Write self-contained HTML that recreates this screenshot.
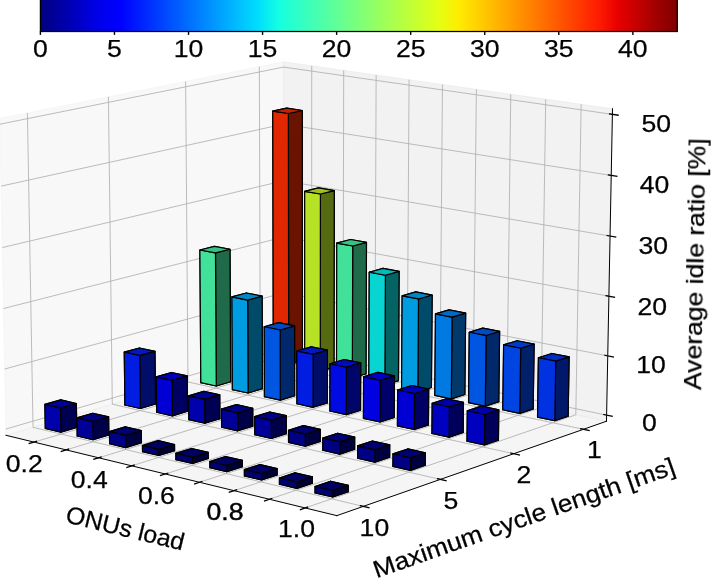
<!DOCTYPE html>
<html><head><meta charset="utf-8"><title>3D bar chart</title>
<style>html,body{margin:0;padding:0;background:#fff;}body{width:711px;height:578px;overflow:hidden;font-family:"Liberation Sans",sans-serif;}svg{display:block;}</style>
</head><body>
<svg width="711" height="578" viewBox="0 0 711 578" font-family="Liberation Sans, sans-serif">
<rect width="711" height="578" fill="#fff"/>
<defs><linearGradient id="jet" x1="0" y1="0" x2="1" y2="0"><stop offset="0.0000" stop-color="#000080"/><stop offset="0.0312" stop-color="#0000a4"/><stop offset="0.0625" stop-color="#0000c8"/><stop offset="0.0938" stop-color="#0000ed"/><stop offset="0.1250" stop-color="#0000ff"/><stop offset="0.1562" stop-color="#0020ff"/><stop offset="0.1875" stop-color="#0040ff"/><stop offset="0.2188" stop-color="#0060ff"/><stop offset="0.2500" stop-color="#0080ff"/><stop offset="0.2812" stop-color="#00a0ff"/><stop offset="0.3125" stop-color="#00c0ff"/><stop offset="0.3438" stop-color="#00e0fb"/><stop offset="0.3750" stop-color="#16ffe1"/><stop offset="0.4062" stop-color="#30ffc7"/><stop offset="0.4375" stop-color="#49ffad"/><stop offset="0.4688" stop-color="#63ff94"/><stop offset="0.5000" stop-color="#7dff7a"/><stop offset="0.5312" stop-color="#97ff60"/><stop offset="0.5625" stop-color="#b1ff46"/><stop offset="0.5938" stop-color="#caff2c"/><stop offset="0.6250" stop-color="#e4ff13"/><stop offset="0.6562" stop-color="#feed00"/><stop offset="0.6875" stop-color="#ffd000"/><stop offset="0.7188" stop-color="#ffb200"/><stop offset="0.7500" stop-color="#ff9400"/><stop offset="0.7812" stop-color="#ff7700"/><stop offset="0.8125" stop-color="#ff5900"/><stop offset="0.8438" stop-color="#ff3b00"/><stop offset="0.8750" stop-color="#ff1e00"/><stop offset="0.9062" stop-color="#e80000"/><stop offset="0.9375" stop-color="#c40000"/><stop offset="0.9688" stop-color="#9f0000"/><stop offset="1.0000" stop-color="#800000"/></linearGradient></defs>
<rect x="40.40" y="-5.00" width="636.90" height="36.50" fill="url(#jet)"/>
<rect x="40.40" y="-5.00" width="636.90" height="36.50" fill="none" stroke="#000" stroke-width="1.25"/>
<line x1="40.40" y1="31.50" x2="40.40" y2="34.90" stroke="#000" stroke-width="1.40"/>
<line x1="114.46" y1="31.50" x2="114.46" y2="34.90" stroke="#000" stroke-width="1.40"/>
<line x1="188.52" y1="31.50" x2="188.52" y2="34.90" stroke="#000" stroke-width="1.40"/>
<line x1="262.57" y1="31.50" x2="262.57" y2="34.90" stroke="#000" stroke-width="1.40"/>
<line x1="336.63" y1="31.50" x2="336.63" y2="34.90" stroke="#000" stroke-width="1.40"/>
<line x1="410.69" y1="31.50" x2="410.69" y2="34.90" stroke="#000" stroke-width="1.40"/>
<line x1="484.75" y1="31.50" x2="484.75" y2="34.90" stroke="#000" stroke-width="1.40"/>
<line x1="558.81" y1="31.50" x2="558.81" y2="34.90" stroke="#000" stroke-width="1.40"/>
<line x1="632.87" y1="31.50" x2="632.87" y2="34.90" stroke="#000" stroke-width="1.40"/>
<polygon points="5.93,435.28 284.08,353.88 283.63,61.86 -0.27,118.53" fill="#f2f2f2" fill-opacity="0.5" stroke="#f2f2f2" stroke-opacity="0.5" stroke-width="1.00"/>
<polygon points="284.08,353.88 606.48,421.25 612.51,108.75 283.63,61.86" fill="#e6e6e6" fill-opacity="0.5" stroke="#e6e6e6" stroke-opacity="0.5" stroke-width="1.00"/>
<polygon points="5.93,435.28 336.84,515.64 606.48,421.25 284.08,353.88" fill="#ececec" fill-opacity="0.5" stroke="#ececec" stroke-opacity="0.5" stroke-width="1.00"/>
<polyline points="5.93,435.28 336.84,515.64" fill="none" stroke="#000" stroke-width="1.00" stroke-linecap="square"/>
<polyline points="34.07,442.11 311.66,359.64 311.73,65.86" fill="none" stroke="#b0b0b0" stroke-width="0.85"/>
<polyline points="66.12,449.90 343.04,366.20 343.70,70.42" fill="none" stroke="#b0b0b0" stroke-width="0.85"/>
<polyline points="98.68,457.80 374.87,372.85 376.15,75.05" fill="none" stroke="#b0b0b0" stroke-width="0.85"/>
<polyline points="131.74,465.83 407.15,379.60 409.07,79.74" fill="none" stroke="#b0b0b0" stroke-width="0.85"/>
<polyline points="165.33,473.99 439.91,386.44 442.47,84.51" fill="none" stroke="#b0b0b0" stroke-width="0.85"/>
<polyline points="199.45,482.27 473.14,393.39 476.37,89.34" fill="none" stroke="#b0b0b0" stroke-width="0.85"/>
<polyline points="234.12,490.69 506.86,400.43 510.78,94.25" fill="none" stroke="#b0b0b0" stroke-width="0.85"/>
<polyline points="269.35,499.25 541.07,407.58 545.71,99.23" fill="none" stroke="#b0b0b0" stroke-width="0.85"/>
<polyline points="305.16,507.95 575.80,414.84 581.17,104.28" fill="none" stroke="#b0b0b0" stroke-width="0.85"/>
<polyline points="36.49,441.39 29.23,443.55" fill="none" stroke="#000" stroke-width="1.30" stroke-linecap="square"/>
<polyline points="68.54,449.17 61.29,451.36" fill="none" stroke="#000" stroke-width="1.30" stroke-linecap="square"/>
<polyline points="101.08,457.06 93.85,459.29" fill="none" stroke="#000" stroke-width="1.30" stroke-linecap="square"/>
<polyline points="134.14,465.08 126.92,467.34" fill="none" stroke="#000" stroke-width="1.30" stroke-linecap="square"/>
<polyline points="167.72,473.22 160.52,475.52" fill="none" stroke="#000" stroke-width="1.30" stroke-linecap="square"/>
<polyline points="201.84,481.50 194.66,483.83" fill="none" stroke="#000" stroke-width="1.30" stroke-linecap="square"/>
<polyline points="236.50,489.90 229.34,492.28" fill="none" stroke="#000" stroke-width="1.30" stroke-linecap="square"/>
<polyline points="271.73,498.45 264.59,500.86" fill="none" stroke="#000" stroke-width="1.30" stroke-linecap="square"/>
<polyline points="307.53,507.13 300.41,509.58" fill="none" stroke="#000" stroke-width="1.30" stroke-linecap="square"/>
<polyline points="336.84,515.64 606.48,421.25" fill="none" stroke="#000" stroke-width="1.00" stroke-linecap="square"/>
<polyline points="27.42,113.00 33.02,427.35 363.25,506.39" fill="none" stroke="#b0b0b0" stroke-width="0.85"/>
<polyline points="108.42,96.83 112.31,404.15 440.38,479.40" fill="none" stroke="#b0b0b0" stroke-width="0.85"/>
<polyline points="185.64,81.42 187.98,382.00 513.71,453.73" fill="none" stroke="#b0b0b0" stroke-width="0.85"/>
<polyline points="259.35,66.70 260.26,360.85 583.53,429.29" fill="none" stroke="#b0b0b0" stroke-width="0.85"/>
<polyline points="360.40,505.71 368.97,507.76" fill="none" stroke="#000" stroke-width="1.30" stroke-linecap="square"/>
<polyline points="437.55,478.75 446.04,480.70" fill="none" stroke="#000" stroke-width="1.30" stroke-linecap="square"/>
<polyline points="510.91,453.11 519.33,454.96" fill="none" stroke="#000" stroke-width="1.30" stroke-linecap="square"/>
<polyline points="580.75,428.70 589.09,430.47" fill="none" stroke="#000" stroke-width="1.30" stroke-linecap="square"/>
<polyline points="606.48,421.25 612.51,108.75" fill="none" stroke="#000" stroke-width="1.00" stroke-linecap="square"/>
<polyline points="606.60,415.13 284.07,348.14 5.81,429.07" fill="none" stroke="#b0b0b0" stroke-width="0.85"/>
<polyline points="607.74,355.89 283.99,292.73 4.64,369.04" fill="none" stroke="#b0b0b0" stroke-width="0.85"/>
<polyline points="608.90,296.20 283.90,236.93 3.45,308.55" fill="none" stroke="#b0b0b0" stroke-width="0.85"/>
<polyline points="610.06,236.05 283.81,180.72 2.26,247.59" fill="none" stroke="#b0b0b0" stroke-width="0.85"/>
<polyline points="611.22,175.44 283.73,124.11 1.06,186.14" fill="none" stroke="#b0b0b0" stroke-width="0.85"/>
<polyline points="612.40,114.35 283.64,67.08 -0.16,124.21" fill="none" stroke="#b0b0b0" stroke-width="0.85"/>
<polyline points="603.83,414.55 612.15,416.28" fill="none" stroke="#000" stroke-width="1.30" stroke-linecap="square"/>
<polyline points="604.97,355.35 613.31,356.98" fill="none" stroke="#000" stroke-width="1.30" stroke-linecap="square"/>
<polyline points="606.10,295.69 614.49,297.22" fill="none" stroke="#000" stroke-width="1.30" stroke-linecap="square"/>
<polyline points="607.25,235.58 615.67,237.01" fill="none" stroke="#000" stroke-width="1.30" stroke-linecap="square"/>
<polyline points="608.41,175.00 616.86,176.32" fill="none" stroke="#000" stroke-width="1.30" stroke-linecap="square"/>
<polyline points="609.58,113.95 618.06,115.17" fill="none" stroke="#000" stroke-width="1.30" stroke-linecap="square"/>
<polygon points="273.35,361.31 287.12,357.26 302.43,360.47 288.68,364.55" fill="#881800" stroke="#000" stroke-width="1.20" stroke-linejoin="round"/>
<polygon points="287.12,357.26 286.78,108.11 302.33,110.49 302.43,360.47" fill="#6a1300" stroke="#000" stroke-width="1.20" stroke-linejoin="round"/>
<polygon points="273.35,361.31 272.78,111.11 286.78,108.11 287.12,357.26" fill="#e12700" stroke="#000" stroke-width="1.20" stroke-linejoin="round"/>
<polygon points="304.72,367.94 318.45,363.83 333.98,367.09 320.27,371.22" fill="#6e8816" stroke="#000" stroke-width="1.20" stroke-linejoin="round"/>
<polygon points="288.68,364.55 302.43,360.47 302.33,110.49 288.36,113.51" fill="#6a1300" stroke="#000" stroke-width="1.20" stroke-linejoin="round"/>
<polygon points="273.35,361.31 288.68,364.55 288.36,113.51 272.78,111.11" fill="#e12700" stroke="#000" stroke-width="1.20" stroke-linejoin="round"/>
<polygon points="318.45,363.83 318.56,187.93 334.27,190.60 333.98,367.09" fill="#566a11" stroke="#000" stroke-width="1.20" stroke-linejoin="round"/>
<polygon points="304.72,367.94 304.68,191.30 318.56,187.93 318.45,363.83" fill="#b6e124" stroke="#000" stroke-width="1.20" stroke-linejoin="round"/>
<polygon points="336.54,374.66 350.23,370.49 365.99,373.79 352.32,377.99" fill="#27885c" stroke="#000" stroke-width="1.20" stroke-linejoin="round"/>
<polygon points="320.27,371.22 333.98,367.09 334.27,190.60 320.41,193.99" fill="#566a11" stroke="#000" stroke-width="1.20" stroke-linejoin="round"/>
<polygon points="304.72,367.94 320.27,371.22 320.41,193.99 304.68,191.30" fill="#b6e124" stroke="#000" stroke-width="1.20" stroke-linejoin="round"/>
<polygon points="272.78,111.11 288.36,113.51 302.33,110.49 286.78,108.11" fill="#c32200" stroke="#000" stroke-width="1.20" stroke-linejoin="round"/>
<polygon points="350.23,370.49 350.58,239.48 366.47,242.35 365.99,373.79" fill="#1f6a48" stroke="#000" stroke-width="1.20" stroke-linejoin="round"/>
<polygon points="336.54,374.66 336.78,243.10 350.58,239.48 350.23,370.49" fill="#41e199" stroke="#000" stroke-width="1.20" stroke-linejoin="round"/>
<polygon points="304.68,191.30 320.41,193.99 334.27,190.60 318.56,187.93" fill="#9ec320" stroke="#000" stroke-width="1.20" stroke-linejoin="round"/>
<polygon points="352.32,377.99 365.99,373.79 366.47,242.35 352.70,245.99" fill="#1f6a48" stroke="#000" stroke-width="1.20" stroke-linejoin="round"/>
<polygon points="336.54,374.66 352.32,377.99 352.70,245.99 336.78,243.10" fill="#41e199" stroke="#000" stroke-width="1.20" stroke-linejoin="round"/>
<polygon points="368.83,381.48 382.47,377.25 398.46,380.60 384.84,384.86" fill="#05807f" stroke="#000" stroke-width="1.20" stroke-linejoin="round"/>
<polygon points="336.78,243.10 352.70,245.99 366.47,242.35 350.58,239.48" fill="#38c385" stroke="#000" stroke-width="1.20" stroke-linejoin="round"/>
<polygon points="200.83,382.63 215.24,378.40 230.65,381.75 216.26,386.02" fill="#27885c" stroke="#000" stroke-width="1.20" stroke-linejoin="round"/>
<polygon points="382.47,377.25 382.99,268.45 399.09,271.43 398.46,380.60" fill="#046463" stroke="#000" stroke-width="1.20" stroke-linejoin="round"/>
<polygon points="368.83,381.48 369.26,272.21 382.99,268.45 382.47,377.25" fill="#08d4d2" stroke="#000" stroke-width="1.20" stroke-linejoin="round"/>
<polygon points="215.24,378.40 214.45,246.34 229.99,249.25 230.65,381.75" fill="#1f6a48" stroke="#000" stroke-width="1.20" stroke-linejoin="round"/>
<polygon points="200.83,382.63 199.91,250.01 214.45,246.34 215.24,378.40" fill="#41e199" stroke="#000" stroke-width="1.20" stroke-linejoin="round"/>
<polygon points="384.84,384.86 398.46,380.60 399.09,271.43 385.38,275.22" fill="#046463" stroke="#000" stroke-width="1.20" stroke-linejoin="round"/>
<polygon points="368.83,381.48 384.84,384.86 385.38,275.22 369.26,272.21" fill="#08d4d2" stroke="#000" stroke-width="1.20" stroke-linejoin="round"/>
<polygon points="369.26,272.21 385.38,275.22 399.09,271.43 382.99,268.45" fill="#07b8b6" stroke="#000" stroke-width="1.20" stroke-linejoin="round"/>
<polygon points="216.26,386.02 230.65,381.75 229.99,249.25 215.47,252.95" fill="#1f6a48" stroke="#000" stroke-width="1.20" stroke-linejoin="round"/>
<polygon points="401.59,388.39 415.18,384.11 431.40,387.51 417.83,391.82" fill="#005e88" stroke="#000" stroke-width="1.20" stroke-linejoin="round"/>
<polygon points="200.83,382.63 216.26,386.02 215.47,252.95 199.91,250.01" fill="#41e199" stroke="#000" stroke-width="1.20" stroke-linejoin="round"/>
<polygon points="415.18,384.11 415.82,291.95 432.13,295.04 431.40,387.51" fill="#004a6a" stroke="#000" stroke-width="1.20" stroke-linejoin="round"/>
<polygon points="401.59,388.39 402.15,295.85 415.82,291.95 415.18,384.11" fill="#009ce1" stroke="#000" stroke-width="1.20" stroke-linejoin="round"/>
<polygon points="232.40,389.57 246.77,385.27 262.41,388.68 248.06,393.00" fill="#005e88" stroke="#000" stroke-width="1.20" stroke-linejoin="round"/>
<polygon points="246.77,385.27 246.41,293.01 262.13,296.10 262.41,388.68" fill="#004a6a" stroke="#000" stroke-width="1.20" stroke-linejoin="round"/>
<polygon points="232.40,389.57 231.95,296.91 246.41,293.01 246.77,385.27" fill="#009ce1" stroke="#000" stroke-width="1.20" stroke-linejoin="round"/>
<polygon points="199.91,250.01 215.47,252.95 229.99,249.25 214.45,246.34" fill="#38c385" stroke="#000" stroke-width="1.20" stroke-linejoin="round"/>
<polygon points="417.83,391.82 431.40,387.51 432.13,295.04 418.49,298.96" fill="#004a6a" stroke="#000" stroke-width="1.20" stroke-linejoin="round"/>
<polygon points="401.59,388.39 417.83,391.82 418.49,298.96 402.15,295.85" fill="#009ce1" stroke="#000" stroke-width="1.20" stroke-linejoin="round"/>
<polygon points="402.15,295.85 418.49,298.96 432.13,295.04 415.82,291.95" fill="#0087c3" stroke="#000" stroke-width="1.20" stroke-linejoin="round"/>
<polygon points="248.06,393.00 262.41,388.68 262.13,296.10 247.69,300.04" fill="#004a6a" stroke="#000" stroke-width="1.20" stroke-linejoin="round"/>
<polygon points="232.40,389.57 248.06,393.00 247.69,300.04 231.95,296.91" fill="#009ce1" stroke="#000" stroke-width="1.20" stroke-linejoin="round"/>
<polygon points="231.95,296.91 247.69,300.04 262.13,296.10 246.41,293.01" fill="#0087c3" stroke="#000" stroke-width="1.20" stroke-linejoin="round"/>
<polygon points="434.83,395.41 448.37,391.06 464.83,394.51 451.31,398.89" fill="#004988" stroke="#000" stroke-width="1.20" stroke-linejoin="round"/>
<polygon points="448.37,391.06 449.10,309.93 465.65,313.11 464.83,394.51" fill="#00396a" stroke="#000" stroke-width="1.20" stroke-linejoin="round"/>
<polygon points="434.83,395.41 435.49,313.94 449.10,309.93 448.37,391.06" fill="#0079e1" stroke="#000" stroke-width="1.20" stroke-linejoin="round"/>
<polygon points="278.77,392.24 278.64,322.67 294.57,325.89 294.63,395.70" fill="#00286a" stroke="#000" stroke-width="1.20" stroke-linejoin="round"/>
<polygon points="264.44,396.60 278.77,392.24 294.63,395.70 280.32,400.09" fill="#003388" stroke="#000" stroke-width="1.20" stroke-linejoin="round"/>
<polygon points="264.44,396.60 264.24,326.74 278.64,322.67 278.77,392.24" fill="#0055e1" stroke="#000" stroke-width="1.20" stroke-linejoin="round"/>
<polygon points="451.31,398.89 464.83,394.51 465.65,313.11 452.07,317.14" fill="#00396a" stroke="#000" stroke-width="1.20" stroke-linejoin="round"/>
<polygon points="434.83,395.41 451.31,398.89 452.07,317.14 435.49,313.94" fill="#0079e1" stroke="#000" stroke-width="1.20" stroke-linejoin="round"/>
<polygon points="435.49,313.94 452.07,317.14 465.65,313.11 449.10,309.93" fill="#0069c3" stroke="#000" stroke-width="1.20" stroke-linejoin="round"/>
<polygon points="280.32,400.09 294.63,395.70 294.57,325.89 280.20,329.99" fill="#00286a" stroke="#000" stroke-width="1.20" stroke-linejoin="round"/>
<polygon points="264.24,326.74 280.20,329.99 294.57,325.89 278.64,322.67" fill="#004ac3" stroke="#000" stroke-width="1.20" stroke-linejoin="round"/>
<polygon points="264.44,396.60 280.32,400.09 280.20,329.99 264.24,326.74" fill="#0055e1" stroke="#000" stroke-width="1.20" stroke-linejoin="round"/>
<polygon points="482.05,398.12 482.83,328.15 499.61,331.41 498.75,401.62" fill="#00286a" stroke="#000" stroke-width="1.20" stroke-linejoin="round"/>
<polygon points="468.56,402.54 482.05,398.12 498.75,401.62 485.29,406.07" fill="#003388" stroke="#000" stroke-width="1.20" stroke-linejoin="round"/>
<polygon points="468.56,402.54 469.29,332.26 482.83,328.15 482.05,398.12" fill="#0055e1" stroke="#000" stroke-width="1.20" stroke-linejoin="round"/>
<polygon points="311.24,399.32 311.25,346.84 327.40,350.17 327.34,402.83" fill="#000e6a" stroke="#000" stroke-width="1.20" stroke-linejoin="round"/>
<polygon points="296.95,403.74 296.91,351.04 311.25,346.84 311.24,399.32" fill="#001de1" stroke="#000" stroke-width="1.20" stroke-linejoin="round"/>
<polygon points="296.95,403.74 311.24,399.32 327.34,402.83 313.07,407.29" fill="#001188" stroke="#000" stroke-width="1.20" stroke-linejoin="round"/>
<polygon points="140.00,400.52 139.43,347.98 154.97,351.31 155.49,404.04" fill="#000e6a" stroke="#000" stroke-width="1.20" stroke-linejoin="round"/>
<polygon points="124.90,404.96 124.28,352.19 139.43,347.98 140.00,400.52" fill="#001de1" stroke="#000" stroke-width="1.20" stroke-linejoin="round"/>
<polygon points="124.90,404.96 140.00,400.52 155.49,404.04 140.42,408.51" fill="#001188" stroke="#000" stroke-width="1.20" stroke-linejoin="round"/>
<polygon points="485.29,406.07 498.75,401.62 499.61,331.41 486.10,335.55" fill="#00286a" stroke="#000" stroke-width="1.20" stroke-linejoin="round"/>
<polygon points="469.29,332.26 486.10,335.55 499.61,331.41 482.83,328.15" fill="#004ac3" stroke="#000" stroke-width="1.20" stroke-linejoin="round"/>
<polygon points="468.56,402.54 485.29,406.07 486.10,335.55 469.29,332.26" fill="#0055e1" stroke="#000" stroke-width="1.20" stroke-linejoin="round"/>
<polygon points="296.91,351.04 313.09,354.40 327.40,350.17 311.25,346.84" fill="#0019c3" stroke="#000" stroke-width="1.20" stroke-linejoin="round"/>
<polygon points="313.07,407.29 327.34,402.83 327.40,350.17 313.09,354.40" fill="#000e6a" stroke="#000" stroke-width="1.20" stroke-linejoin="round"/>
<polygon points="296.95,403.74 313.07,407.29 313.09,354.40 296.91,351.04" fill="#001de1" stroke="#000" stroke-width="1.20" stroke-linejoin="round"/>
<polygon points="124.28,352.19 139.84,355.55 154.97,351.31 139.43,347.98" fill="#0019c3" stroke="#000" stroke-width="1.20" stroke-linejoin="round"/>
<polygon points="140.42,408.51 155.49,404.04 154.97,351.31 139.84,355.55" fill="#000e6a" stroke="#000" stroke-width="1.20" stroke-linejoin="round"/>
<polygon points="124.90,404.96 140.42,408.51 139.84,355.55 124.28,352.19" fill="#001de1" stroke="#000" stroke-width="1.20" stroke-linejoin="round"/>
<polygon points="516.23,405.29 517.10,340.72 534.12,344.05 533.18,408.84" fill="#00206a" stroke="#000" stroke-width="1.20" stroke-linejoin="round"/>
<polygon points="502.80,409.77 516.23,405.29 533.18,408.84 519.78,413.35" fill="#002988" stroke="#000" stroke-width="1.20" stroke-linejoin="round"/>
<polygon points="502.80,409.77 503.61,344.92 517.10,340.72 516.23,405.29" fill="#0044e1" stroke="#000" stroke-width="1.20" stroke-linejoin="round"/>
<polygon points="344.19,406.50 344.30,359.54 360.69,362.94 360.53,410.06" fill="#00056a" stroke="#000" stroke-width="1.20" stroke-linejoin="round"/>
<polygon points="329.94,410.99 330.01,363.83 344.30,359.54 344.19,406.50" fill="#000be1" stroke="#000" stroke-width="1.20" stroke-linejoin="round"/>
<polygon points="329.94,410.99 344.19,406.50 360.53,410.06 346.31,414.59" fill="#000788" stroke="#000" stroke-width="1.20" stroke-linejoin="round"/>
<polygon points="171.71,407.72 171.40,372.48 187.17,375.93 187.44,411.29" fill="#000064" stroke="#000" stroke-width="1.20" stroke-linejoin="round"/>
<polygon points="156.65,412.22 156.31,376.83 171.40,372.48 171.71,407.72" fill="#0000d5" stroke="#000" stroke-width="1.20" stroke-linejoin="round"/>
<polygon points="156.65,412.22 171.71,407.72 187.44,411.29 172.40,415.83" fill="#000081" stroke="#000" stroke-width="1.20" stroke-linejoin="round"/>
<polygon points="519.78,413.35 533.18,408.84 534.12,344.05 520.67,348.28" fill="#00206a" stroke="#000" stroke-width="1.20" stroke-linejoin="round"/>
<polygon points="503.61,344.92 520.67,348.28 534.12,344.05 517.10,340.72" fill="#003bc3" stroke="#000" stroke-width="1.20" stroke-linejoin="round"/>
<polygon points="330.01,363.83 346.43,367.26 360.69,362.94 344.30,359.54" fill="#000ac3" stroke="#000" stroke-width="1.20" stroke-linejoin="round"/>
<polygon points="502.80,409.77 519.78,413.35 520.67,348.28 503.61,344.92" fill="#0044e1" stroke="#000" stroke-width="1.20" stroke-linejoin="round"/>
<polygon points="346.31,414.59 360.53,410.06 360.69,362.94 346.43,367.26" fill="#00056a" stroke="#000" stroke-width="1.20" stroke-linejoin="round"/>
<polygon points="156.31,376.83 172.09,380.32 187.17,375.93 171.40,372.48" fill="#0000b9" stroke="#000" stroke-width="1.20" stroke-linejoin="round"/>
<polygon points="329.94,410.99 346.31,414.59 346.43,367.26 330.01,363.83" fill="#000be1" stroke="#000" stroke-width="1.20" stroke-linejoin="round"/>
<polygon points="172.40,415.83 187.44,411.29 187.17,375.93 172.09,380.32" fill="#000064" stroke="#000" stroke-width="1.20" stroke-linejoin="round"/>
<polygon points="156.65,412.22 172.40,415.83 172.09,380.32 156.31,376.83" fill="#0000d5" stroke="#000" stroke-width="1.20" stroke-linejoin="round"/>
<polygon points="550.92,412.56 551.85,353.47 569.12,356.87 568.13,416.16" fill="#00186a" stroke="#000" stroke-width="1.20" stroke-linejoin="round"/>
<polygon points="537.55,417.11 550.92,412.56 568.13,416.16 554.79,420.75" fill="#001e88" stroke="#000" stroke-width="1.20" stroke-linejoin="round"/>
<polygon points="537.55,417.11 538.43,357.76 551.85,353.47 550.92,412.56" fill="#0032e1" stroke="#000" stroke-width="1.20" stroke-linejoin="round"/>
<polygon points="377.63,413.79 377.82,372.43 394.45,375.90 394.22,417.41" fill="#00006a" stroke="#000" stroke-width="1.20" stroke-linejoin="round"/>
<polygon points="363.44,418.35 363.59,376.81 377.82,372.43 377.63,413.79" fill="#0000e1" stroke="#000" stroke-width="1.20" stroke-linejoin="round"/>
<polygon points="203.90,415.03 203.74,391.39 219.74,394.93 219.87,418.65" fill="#000052" stroke="#000" stroke-width="1.20" stroke-linejoin="round"/>
<polygon points="363.44,418.35 377.63,413.79 394.22,417.41 380.05,422.00" fill="#000088" stroke="#000" stroke-width="1.20" stroke-linejoin="round"/>
<polygon points="188.88,419.60 188.70,395.86 203.74,391.39 203.90,415.03" fill="#0000ad" stroke="#000" stroke-width="1.20" stroke-linejoin="round"/>
<polygon points="188.88,419.60 203.90,415.03 219.87,418.65 204.87,423.26" fill="#000068" stroke="#000" stroke-width="1.20" stroke-linejoin="round"/>
<polygon points="554.79,420.75 568.13,416.16 569.12,356.87 555.74,361.19" fill="#00186a" stroke="#000" stroke-width="1.20" stroke-linejoin="round"/>
<polygon points="538.43,357.76 555.74,361.19 569.12,356.87 551.85,353.47" fill="#002bc3" stroke="#000" stroke-width="1.20" stroke-linejoin="round"/>
<polygon points="363.59,376.81 380.24,380.31 394.45,375.90 377.82,372.43" fill="#0000c3" stroke="#000" stroke-width="1.20" stroke-linejoin="round"/>
<polygon points="188.70,395.86 204.71,399.43 219.74,394.93 203.74,391.39" fill="#000096" stroke="#000" stroke-width="1.20" stroke-linejoin="round"/>
<polygon points="537.55,417.11 554.79,420.75 555.74,361.19 538.43,357.76" fill="#0032e1" stroke="#000" stroke-width="1.20" stroke-linejoin="round"/>
<polygon points="380.05,422.00 394.22,417.41 394.45,375.90 380.24,380.31" fill="#00006a" stroke="#000" stroke-width="1.20" stroke-linejoin="round"/>
<polygon points="363.44,418.35 380.05,422.00 380.24,380.31 363.59,376.81" fill="#0000e1" stroke="#000" stroke-width="1.20" stroke-linejoin="round"/>
<polygon points="204.87,423.26 219.87,418.65 219.74,394.93 204.71,399.43" fill="#000052" stroke="#000" stroke-width="1.20" stroke-linejoin="round"/>
<polygon points="188.88,419.60 204.87,423.26 204.71,399.43 188.70,395.86" fill="#0000ad" stroke="#000" stroke-width="1.20" stroke-linejoin="round"/>
<polygon points="411.58,421.19 411.82,385.50 428.70,389.04 428.42,424.86" fill="#000064" stroke="#000" stroke-width="1.20" stroke-linejoin="round"/>
<polygon points="397.44,425.82 397.65,389.97 411.82,385.50 411.58,421.19" fill="#0000d5" stroke="#000" stroke-width="1.20" stroke-linejoin="round"/>
<polygon points="236.58,422.44 236.50,404.60 252.73,408.22 252.79,426.12" fill="#000048" stroke="#000" stroke-width="1.20" stroke-linejoin="round"/>
<polygon points="221.60,427.09 221.50,409.16 236.50,404.60 236.58,422.44" fill="#000099" stroke="#000" stroke-width="1.20" stroke-linejoin="round"/>
<polygon points="397.44,425.82 411.58,421.19 428.42,424.86 414.31,429.53" fill="#000081" stroke="#000" stroke-width="1.20" stroke-linejoin="round"/>
<polygon points="61.14,423.70 60.76,399.87 76.36,403.48 76.71,427.39" fill="#000052" stroke="#000" stroke-width="1.20" stroke-linejoin="round"/>
<polygon points="221.60,427.09 236.58,422.44 252.79,426.12 237.83,430.80" fill="#00005c" stroke="#000" stroke-width="1.20" stroke-linejoin="round"/>
<polygon points="45.31,428.36 44.90,404.42 60.76,399.87 61.14,423.70" fill="#0000ad" stroke="#000" stroke-width="1.20" stroke-linejoin="round"/>
<polygon points="397.65,389.97 414.55,393.55 428.70,389.04 411.82,385.50" fill="#0000b9" stroke="#000" stroke-width="1.20" stroke-linejoin="round"/>
<polygon points="221.50,409.16 237.75,412.81 252.73,408.22 236.50,404.60" fill="#000085" stroke="#000" stroke-width="1.20" stroke-linejoin="round"/>
<polygon points="45.31,428.36 61.14,423.70 76.71,427.39 60.90,432.08" fill="#000068" stroke="#000" stroke-width="1.20" stroke-linejoin="round"/>
<polygon points="414.31,429.53 428.42,424.86 428.70,389.04 414.55,393.55" fill="#000064" stroke="#000" stroke-width="1.20" stroke-linejoin="round"/>
<polygon points="397.44,425.82 414.31,429.53 414.55,393.55 397.65,389.97" fill="#0000d5" stroke="#000" stroke-width="1.20" stroke-linejoin="round"/>
<polygon points="237.83,430.80 252.79,426.12 252.73,408.22 237.75,412.81" fill="#000048" stroke="#000" stroke-width="1.20" stroke-linejoin="round"/>
<polygon points="44.90,404.42 60.52,408.06 76.36,403.48 60.76,399.87" fill="#000096" stroke="#000" stroke-width="1.20" stroke-linejoin="round"/>
<polygon points="221.60,427.09 237.83,430.80 237.75,412.81 221.50,409.16" fill="#000099" stroke="#000" stroke-width="1.20" stroke-linejoin="round"/>
<polygon points="60.90,432.08 76.71,427.39 76.36,403.48 60.52,408.06" fill="#000052" stroke="#000" stroke-width="1.20" stroke-linejoin="round"/>
<polygon points="45.31,428.36 60.90,432.08 60.52,408.06 44.90,404.42" fill="#0000ad" stroke="#000" stroke-width="1.20" stroke-linejoin="round"/>
<polygon points="446.05,428.70 446.32,398.76 463.45,402.38 463.15,432.43" fill="#00005b" stroke="#000" stroke-width="1.20" stroke-linejoin="round"/>
<polygon points="431.96,433.40 432.20,403.33 446.32,398.76 446.05,428.70" fill="#0000c1" stroke="#000" stroke-width="1.20" stroke-linejoin="round"/>
<polygon points="269.76,429.98 269.72,412.00 286.19,415.68 286.22,433.71" fill="#000048" stroke="#000" stroke-width="1.20" stroke-linejoin="round"/>
<polygon points="254.82,434.69 254.76,416.64 269.72,412.00 269.76,429.98" fill="#000099" stroke="#000" stroke-width="1.20" stroke-linejoin="round"/>
<polygon points="431.96,433.40 446.05,428.70 463.15,432.43 449.09,437.17" fill="#000074" stroke="#000" stroke-width="1.20" stroke-linejoin="round"/>
<polygon points="93.02,431.25 92.77,413.26 108.60,416.94 108.83,435.00" fill="#000048" stroke="#000" stroke-width="1.20" stroke-linejoin="round"/>
<polygon points="77.22,435.98 76.95,417.90 92.77,413.26 93.02,431.25" fill="#000099" stroke="#000" stroke-width="1.20" stroke-linejoin="round"/>
<polygon points="254.82,434.69 269.76,429.98 286.22,433.71 271.30,438.46" fill="#00005c" stroke="#000" stroke-width="1.20" stroke-linejoin="round"/>
<polygon points="432.20,403.33 449.36,406.98 463.45,402.38 446.32,398.76" fill="#0000a7" stroke="#000" stroke-width="1.20" stroke-linejoin="round"/>
<polygon points="254.76,416.64 271.26,420.34 286.19,415.68 269.72,412.00" fill="#000085" stroke="#000" stroke-width="1.20" stroke-linejoin="round"/>
<polygon points="77.22,435.98 93.02,431.25 108.83,435.00 93.05,439.76" fill="#00005c" stroke="#000" stroke-width="1.20" stroke-linejoin="round"/>
<polygon points="449.09,437.17 463.15,432.43 463.45,402.38 449.36,406.98" fill="#00005b" stroke="#000" stroke-width="1.20" stroke-linejoin="round"/>
<polygon points="431.96,433.40 449.09,437.17 449.36,406.98 432.20,403.33" fill="#0000c1" stroke="#000" stroke-width="1.20" stroke-linejoin="round"/>
<polygon points="76.95,417.90 92.80,421.62 108.60,416.94 92.77,413.26" fill="#000085" stroke="#000" stroke-width="1.20" stroke-linejoin="round"/>
<polygon points="271.30,438.46 286.22,433.71 286.19,415.68 271.26,420.34" fill="#000048" stroke="#000" stroke-width="1.20" stroke-linejoin="round"/>
<polygon points="254.82,434.69 271.30,438.46 271.26,420.34 254.76,416.64" fill="#000099" stroke="#000" stroke-width="1.20" stroke-linejoin="round"/>
<polygon points="93.05,439.76 108.83,435.00 108.60,416.94 92.80,421.62" fill="#000048" stroke="#000" stroke-width="1.20" stroke-linejoin="round"/>
<polygon points="77.22,435.98 93.05,439.76 92.80,421.62 76.95,417.90" fill="#000099" stroke="#000" stroke-width="1.20" stroke-linejoin="round"/>
<polygon points="481.05,436.33 481.39,406.17 498.78,409.85 498.41,440.12" fill="#00005b" stroke="#000" stroke-width="1.20" stroke-linejoin="round"/>
<polygon points="467.02,441.10 467.33,410.81 481.39,406.17 481.05,436.33" fill="#0000c1" stroke="#000" stroke-width="1.20" stroke-linejoin="round"/>
<polygon points="303.45,437.62 303.45,425.56 320.17,429.31 320.16,441.42" fill="#00003f" stroke="#000" stroke-width="1.20" stroke-linejoin="round"/>
<polygon points="288.55,442.41 288.54,430.29 303.45,425.56 303.45,437.62" fill="#000085" stroke="#000" stroke-width="1.20" stroke-linejoin="round"/>
<polygon points="467.02,441.10 481.05,436.33 498.41,440.12 484.41,444.93" fill="#000074" stroke="#000" stroke-width="1.20" stroke-linejoin="round"/>
<polygon points="125.39,438.92 125.25,426.84 141.32,430.60 141.45,442.73" fill="#00003f" stroke="#000" stroke-width="1.20" stroke-linejoin="round"/>
<polygon points="109.62,443.72 109.47,431.59 125.25,426.84 125.39,438.92" fill="#000085" stroke="#000" stroke-width="1.20" stroke-linejoin="round"/>
<polygon points="288.55,442.41 303.45,437.62 320.16,441.42 305.29,446.24" fill="#000050" stroke="#000" stroke-width="1.20" stroke-linejoin="round"/>
<polygon points="467.33,410.81 484.76,414.52 498.78,409.85 481.39,406.17" fill="#0000a7" stroke="#000" stroke-width="1.20" stroke-linejoin="round"/>
<polygon points="288.54,430.29 305.29,434.08 320.17,429.31 303.45,425.56" fill="#000073" stroke="#000" stroke-width="1.20" stroke-linejoin="round"/>
<polygon points="109.62,443.72 125.39,438.92 141.45,442.73 125.70,447.56" fill="#000050" stroke="#000" stroke-width="1.20" stroke-linejoin="round"/>
<polygon points="484.41,444.93 498.41,440.12 498.78,409.85 484.76,414.52" fill="#00005b" stroke="#000" stroke-width="1.20" stroke-linejoin="round"/>
<polygon points="467.02,441.10 484.41,444.93 484.76,414.52 467.33,410.81" fill="#0000c1" stroke="#000" stroke-width="1.20" stroke-linejoin="round"/>
<polygon points="109.47,431.59 125.56,435.38 141.32,430.60 125.25,426.84" fill="#000073" stroke="#000" stroke-width="1.20" stroke-linejoin="round"/>
<polygon points="305.29,446.24 320.16,441.42 320.17,429.31 305.29,434.08" fill="#00003f" stroke="#000" stroke-width="1.20" stroke-linejoin="round"/>
<polygon points="288.55,442.41 305.29,446.24 305.29,434.08 288.54,430.29" fill="#000085" stroke="#000" stroke-width="1.20" stroke-linejoin="round"/>
<polygon points="125.70,447.56 141.45,442.73 141.32,430.60 125.56,435.38" fill="#00003f" stroke="#000" stroke-width="1.20" stroke-linejoin="round"/>
<polygon points="109.62,443.72 125.70,447.56 125.56,435.38 109.47,431.59" fill="#000085" stroke="#000" stroke-width="1.20" stroke-linejoin="round"/>
<polygon points="337.66,445.39 337.68,433.24 354.67,437.05 354.63,449.24" fill="#00003f" stroke="#000" stroke-width="1.20" stroke-linejoin="round"/>
<polygon points="322.81,450.25 322.82,438.05 337.68,433.24 337.66,445.39" fill="#000085" stroke="#000" stroke-width="1.20" stroke-linejoin="round"/>
<polygon points="158.26,446.71 158.20,440.63 174.52,444.47 174.57,450.57" fill="#000035" stroke="#000" stroke-width="1.20" stroke-linejoin="round"/>
<polygon points="142.53,451.58 142.47,445.47 158.20,440.63 158.26,446.71" fill="#000071" stroke="#000" stroke-width="1.20" stroke-linejoin="round"/>
<polygon points="322.81,450.25 337.66,445.39 354.63,449.24 339.81,454.14" fill="#000050" stroke="#000" stroke-width="1.20" stroke-linejoin="round"/>
<polygon points="322.82,438.05 339.84,441.89 354.67,437.05 337.68,433.24" fill="#000073" stroke="#000" stroke-width="1.20" stroke-linejoin="round"/>
<polygon points="142.53,451.58 158.26,446.71 174.57,450.57 158.86,455.48" fill="#000044" stroke="#000" stroke-width="1.20" stroke-linejoin="round"/>
<polygon points="142.47,445.47 158.80,449.35 174.52,444.47 158.20,440.63" fill="#000062" stroke="#000" stroke-width="1.20" stroke-linejoin="round"/>
<polygon points="339.81,454.14 354.63,449.24 354.67,437.05 339.84,441.89" fill="#00003f" stroke="#000" stroke-width="1.20" stroke-linejoin="round"/>
<polygon points="322.81,450.25 339.81,454.14 339.84,441.89 322.82,438.05" fill="#000085" stroke="#000" stroke-width="1.20" stroke-linejoin="round"/>
<polygon points="158.86,455.48 174.57,450.57 174.52,444.47 158.80,449.35" fill="#000035" stroke="#000" stroke-width="1.20" stroke-linejoin="round"/>
<polygon points="142.53,451.58 158.86,455.48 158.80,449.35 142.47,445.47" fill="#000071" stroke="#000" stroke-width="1.20" stroke-linejoin="round"/>
<polygon points="372.40,453.28 372.45,441.04 389.71,444.91 389.64,457.19" fill="#00003f" stroke="#000" stroke-width="1.20" stroke-linejoin="round"/>
<polygon points="357.61,458.22 357.65,445.92 372.45,441.04 372.40,453.28" fill="#000085" stroke="#000" stroke-width="1.20" stroke-linejoin="round"/>
<polygon points="191.65,454.62 191.60,448.49 208.18,452.39 208.22,458.54" fill="#000035" stroke="#000" stroke-width="1.20" stroke-linejoin="round"/>
<polygon points="175.96,459.57 175.91,453.41 191.60,448.49 191.65,454.62" fill="#000071" stroke="#000" stroke-width="1.20" stroke-linejoin="round"/>
<polygon points="357.61,458.22 372.40,453.28 389.64,457.19 374.87,462.17" fill="#000050" stroke="#000" stroke-width="1.20" stroke-linejoin="round"/>
<polygon points="357.65,445.92 374.93,449.83 389.71,444.91 372.45,441.04" fill="#000073" stroke="#000" stroke-width="1.20" stroke-linejoin="round"/>
<polygon points="175.96,459.57 191.65,454.62 208.22,458.54 192.55,463.53" fill="#000044" stroke="#000" stroke-width="1.20" stroke-linejoin="round"/>
<polygon points="175.91,453.41 192.50,457.35 208.18,452.39 191.60,448.49" fill="#000062" stroke="#000" stroke-width="1.20" stroke-linejoin="round"/>
<polygon points="374.87,462.17 389.64,457.19 389.71,444.91 374.93,449.83" fill="#00003f" stroke="#000" stroke-width="1.20" stroke-linejoin="round"/>
<polygon points="357.61,458.22 374.87,462.17 374.93,449.83 357.65,445.92" fill="#000085" stroke="#000" stroke-width="1.20" stroke-linejoin="round"/>
<polygon points="192.55,463.53 208.22,458.54 208.18,452.39 192.50,457.35" fill="#000035" stroke="#000" stroke-width="1.20" stroke-linejoin="round"/>
<polygon points="175.96,459.57 192.55,463.53 192.50,457.35 175.91,453.41" fill="#000071" stroke="#000" stroke-width="1.20" stroke-linejoin="round"/>
<polygon points="407.69,461.29 407.77,448.96 425.30,452.89 425.21,465.27" fill="#00003f" stroke="#000" stroke-width="1.20" stroke-linejoin="round"/>
<polygon points="392.95,466.30 393.02,453.92 407.77,448.96 407.69,461.29" fill="#000085" stroke="#000" stroke-width="1.20" stroke-linejoin="round"/>
<polygon points="225.56,462.65 225.53,456.48 242.37,460.44 242.39,466.63" fill="#000035" stroke="#000" stroke-width="1.20" stroke-linejoin="round"/>
<polygon points="209.91,467.68 209.87,461.48 225.53,456.48 225.56,462.65" fill="#000071" stroke="#000" stroke-width="1.20" stroke-linejoin="round"/>
<polygon points="392.95,466.30 407.69,461.29 425.21,465.27 410.49,470.32" fill="#000050" stroke="#000" stroke-width="1.20" stroke-linejoin="round"/>
<polygon points="393.02,453.92 410.58,457.89 425.30,452.89 407.77,448.96" fill="#000073" stroke="#000" stroke-width="1.20" stroke-linejoin="round"/>
<polygon points="209.91,467.68 225.56,462.65 242.39,466.63 226.77,471.70" fill="#000044" stroke="#000" stroke-width="1.20" stroke-linejoin="round"/>
<polygon points="209.87,461.48 226.73,465.48 242.37,460.44 225.53,456.48" fill="#000062" stroke="#000" stroke-width="1.20" stroke-linejoin="round"/>
<polygon points="410.49,470.32 425.21,465.27 425.30,452.89 410.58,457.89" fill="#00003f" stroke="#000" stroke-width="1.20" stroke-linejoin="round"/>
<polygon points="392.95,466.30 410.49,470.32 410.58,457.89 393.02,453.92" fill="#000085" stroke="#000" stroke-width="1.20" stroke-linejoin="round"/>
<polygon points="226.77,471.70 242.39,466.63 242.37,460.44 226.73,465.48" fill="#000035" stroke="#000" stroke-width="1.20" stroke-linejoin="round"/>
<polygon points="209.91,467.68 226.77,471.70 226.73,465.48 209.87,461.48" fill="#000071" stroke="#000" stroke-width="1.20" stroke-linejoin="round"/>
<polygon points="260.02,470.81 260.00,464.59 277.10,468.62 277.11,474.86" fill="#000035" stroke="#000" stroke-width="1.20" stroke-linejoin="round"/>
<polygon points="244.41,475.92 244.38,469.67 260.00,464.59 260.02,470.81" fill="#000071" stroke="#000" stroke-width="1.20" stroke-linejoin="round"/>
<polygon points="244.41,475.92 260.02,470.81 277.11,474.86 261.53,480.01" fill="#000044" stroke="#000" stroke-width="1.20" stroke-linejoin="round"/>
<polygon points="244.38,469.67 261.51,473.74 277.10,468.62 260.00,464.59" fill="#000062" stroke="#000" stroke-width="1.20" stroke-linejoin="round"/>
<polygon points="261.53,480.01 277.11,474.86 277.10,468.62 261.51,473.74" fill="#000035" stroke="#000" stroke-width="1.20" stroke-linejoin="round"/>
<polygon points="244.41,475.92 261.53,480.01 261.51,473.74 244.38,469.67" fill="#000071" stroke="#000" stroke-width="1.20" stroke-linejoin="round"/>
<polygon points="295.02,479.10 295.01,472.84 312.39,476.93 312.39,483.21" fill="#000035" stroke="#000" stroke-width="1.20" stroke-linejoin="round"/>
<polygon points="279.46,484.29 279.45,478.00 295.01,472.84 295.02,479.10" fill="#000071" stroke="#000" stroke-width="1.20" stroke-linejoin="round"/>
<polygon points="279.46,484.29 295.02,479.10 312.39,483.21 296.86,488.45" fill="#000044" stroke="#000" stroke-width="1.20" stroke-linejoin="round"/>
<polygon points="279.45,478.00 296.86,482.13 312.39,476.93 295.01,472.84" fill="#000062" stroke="#000" stroke-width="1.20" stroke-linejoin="round"/>
<polygon points="296.86,488.45 312.39,483.21 312.39,476.93 296.86,482.13" fill="#000035" stroke="#000" stroke-width="1.20" stroke-linejoin="round"/>
<polygon points="279.46,484.29 296.86,488.45 296.86,482.13 279.45,478.00" fill="#000071" stroke="#000" stroke-width="1.20" stroke-linejoin="round"/>
<polygon points="330.59,487.52 330.60,481.21 348.26,485.37 348.24,491.71" fill="#000035" stroke="#000" stroke-width="1.20" stroke-linejoin="round"/>
<polygon points="315.08,492.80 315.08,486.46 330.60,481.21 330.59,487.52" fill="#000071" stroke="#000" stroke-width="1.20" stroke-linejoin="round"/>
<polygon points="315.08,492.80 330.59,487.52 348.24,491.71 332.76,497.02" fill="#000044" stroke="#000" stroke-width="1.20" stroke-linejoin="round"/>
<polygon points="315.08,486.46 332.77,490.66 348.26,485.37 330.60,481.21" fill="#000062" stroke="#000" stroke-width="1.20" stroke-linejoin="round"/>
<polygon points="332.76,497.02 348.24,491.71 348.26,485.37 332.77,490.66" fill="#000035" stroke="#000" stroke-width="1.20" stroke-linejoin="round"/>
<polygon points="315.08,492.80 332.76,497.02 332.77,490.66 315.08,486.46" fill="#000071" stroke="#000" stroke-width="1.20" stroke-linejoin="round"/>
<g opacity="0.995" stroke="#000" stroke-width="0.25">
<text x="40.40" y="57.00" text-anchor="middle" font-size="24.30" textLength="14.79" lengthAdjust="spacingAndGlyphs">0</text>
<text x="114.46" y="57.00" text-anchor="middle" font-size="24.30" textLength="14.79" lengthAdjust="spacingAndGlyphs">5</text>
<text x="188.52" y="57.00" text-anchor="middle" font-size="24.30" textLength="29.59" lengthAdjust="spacingAndGlyphs">10</text>
<text x="262.57" y="57.00" text-anchor="middle" font-size="24.30" textLength="29.59" lengthAdjust="spacingAndGlyphs">15</text>
<text x="336.63" y="57.00" text-anchor="middle" font-size="24.30" textLength="29.59" lengthAdjust="spacingAndGlyphs">20</text>
<text x="410.69" y="57.00" text-anchor="middle" font-size="24.30" textLength="29.59" lengthAdjust="spacingAndGlyphs">25</text>
<text x="484.75" y="57.00" text-anchor="middle" font-size="24.30" textLength="29.59" lengthAdjust="spacingAndGlyphs">30</text>
<text x="558.81" y="57.00" text-anchor="middle" font-size="24.30" textLength="29.59" lengthAdjust="spacingAndGlyphs">35</text>
<text x="632.87" y="57.00" text-anchor="middle" font-size="24.30" textLength="29.59" lengthAdjust="spacingAndGlyphs">40</text>
<text x="656.25" y="132.10" text-anchor="middle" font-size="24.30" textLength="29.59" lengthAdjust="spacingAndGlyphs">50</text>
<text x="654.60" y="192.90" text-anchor="middle" font-size="24.30" textLength="29.59" lengthAdjust="spacingAndGlyphs">40</text>
<text x="653.30" y="253.80" text-anchor="middle" font-size="24.30" textLength="29.59" lengthAdjust="spacingAndGlyphs">30</text>
<text x="652.35" y="314.70" text-anchor="middle" font-size="24.30" textLength="29.59" lengthAdjust="spacingAndGlyphs">20</text>
<text x="651.00" y="372.60" text-anchor="middle" font-size="24.30" textLength="29.59" lengthAdjust="spacingAndGlyphs">10</text>
<text x="649.50" y="430.90" text-anchor="middle" font-size="24.30" textLength="14.79" lengthAdjust="spacingAndGlyphs">0</text>
<text x="24.25" y="471.70" text-anchor="middle" font-size="24.30" textLength="36.98" lengthAdjust="spacingAndGlyphs">0.2</text>
<text x="89.25" y="487.50" text-anchor="middle" font-size="24.30" textLength="36.98" lengthAdjust="spacingAndGlyphs">0.4</text>
<text x="156.40" y="504.10" text-anchor="middle" font-size="24.30" textLength="36.98" lengthAdjust="spacingAndGlyphs">0.6</text>
<text x="225.05" y="520.10" text-anchor="middle" font-size="24.30" textLength="36.98" lengthAdjust="spacingAndGlyphs" stroke="#000" stroke-width="0.45">0.8</text>
<text x="296.50" y="537.30" text-anchor="middle" font-size="24.30" textLength="36.98" lengthAdjust="spacingAndGlyphs">1.0</text>
<text x="374.40" y="535.50" text-anchor="middle" font-size="24.30" textLength="29.59" lengthAdjust="spacingAndGlyphs">10</text>
<text x="450.95" y="509.00" text-anchor="middle" font-size="24.30" textLength="14.79" lengthAdjust="spacingAndGlyphs">5</text>
<text x="523.80" y="483.00" text-anchor="middle" font-size="24.30" textLength="14.79" lengthAdjust="spacingAndGlyphs">2</text>
<text x="594.40" y="458.40" text-anchor="middle" font-size="24.30" textLength="14.79" lengthAdjust="spacingAndGlyphs">1</text>
<text x="703.50" y="264.30" text-anchor="middle" font-size="24.30" textLength="251.67" lengthAdjust="spacingAndGlyphs" transform="rotate(-88.900 703.50 264.30)">Average idle ratio [%]</text>
<text x="123.30" y="536.30" text-anchor="middle" font-size="24.30" textLength="121.10" lengthAdjust="spacingAndGlyphs" transform="rotate(13.650 123.30 536.30)">ONUs load</text>
<text x="526.60" y="525.70" text-anchor="middle" font-size="24.30" textLength="318.12" lengthAdjust="spacingAndGlyphs" transform="rotate(-19.290 526.60 525.70)">Maximum cycle length [ms]</text>
</g>
</svg>
</body></html>
